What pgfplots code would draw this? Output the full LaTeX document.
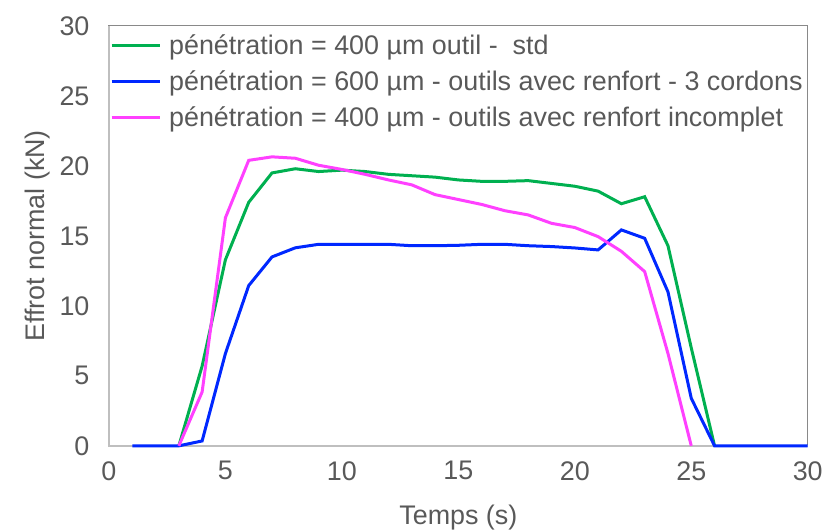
\documentclass[border=0pt]{standalone}
\usepackage{pgfplots}
\pgfplotsset{compat=1.18}
\usepackage{fontspec}
\setmainfont{Liberation Sans}
\definecolor{txt}{RGB}{89,89,89}
\definecolor{axl}{RGB}{191,191,191}
\definecolor{box}{RGB}{137,137,137}
\definecolor{cgreen}{RGB}{0,176,80}
\definecolor{cblue}{RGB}{0,40,255}
\definecolor{cmag}{RGB}{255,64,255}
\begin{document}
\begin{tikzpicture}
\begin{axis}[
  scale only axis, width=699bp, height=420bp,
  xmin=0, xmax=30, ymin=0, ymax=30,
  xtick={0,5,...,30}, ytick={0,5,...,30},
  major tick length=0pt,
  axis line style={draw=box, line width=1bp},
  tick label style={font=\fontsize{27}{31}\selectfont, text=txt},
  /pgf/number format/assume math mode=true,
  yticklabel style={xshift=-16bp},
  xticklabel style={yshift=-12bp},
  xlabel={Temps (s)}, ylabel={Effrot normal (kN)},
  label style={font=\fontsize{27}{31}\selectfont, text=txt},
  xlabel style={yshift=-21bp, inner sep=0pt},
  ylabel style={yshift=3bp},
  legend style={at={(rel axis cs:0,1)}, anchor=north west, draw=none, fill=none,
    yshift=-3bp,
    font=\fontsize{27}{31}\selectfont, text=txt, row sep=10.5bp, inner xsep=1bp, inner ysep=4bp},
  legend cell align=left,
  legend image code/.code={\draw[#1, line width=3bp] (0bp,0bp) -- (48bp,0bp); \path (54bp,0bp);},
  clip=false,
]
\draw[axl, line width=1.5bp] (rel axis cs:0,1) -- (rel axis cs:0,0) -- (rel axis cs:1,0);
\addplot[cgreen, line width=3bp] coordinates {
(3,0) (4,5.7) (5,13.3) (6,17.4) (7,19.5) (8,19.8) (9,19.6) (10,19.7) (11,19.6) (12,19.4) (13,19.3) (14,19.2) (15,19.0) (16,18.9) (17,18.9) (18,18.95) (19,18.75) (20,18.55) (21,18.2) (22,17.3) (23,17.8) (24,14.3) (25,7.0) (26,0)
};
\addlegendentry{pénétration = 400 µm outil - \ std}
\addplot[cblue, line width=3bp] coordinates {
(1,0) (2,0) (3,0) (4,0.35) (5,6.6) (6,11.45) (7,13.5) (8,14.15) (9,14.4) (10,14.4) (11,14.4) (12,14.4) (13,14.3) (14,14.3) (15,14.33) (16,14.4) (17,14.4) (18,14.3) (19,14.24) (20,14.14) (21,14.0) (22,15.43) (23,14.83) (24,11.0) (25,3.4) (26,0) (27,0) (28,0) (29,0) (30,0)
};
\addlegendentry{pénétration = 600 µm - outils avec renfort - 3 cordons}
\addplot[cmag, line width=3bp] coordinates {
(3,0) (4,3.85) (5,16.3) (6,20.4) (7,20.65) (8,20.55) (9,20.05) (10,19.75) (11,19.4) (12,19.0) (13,18.65) (14,17.95) (15,17.6) (16,17.25) (17,16.8) (18,16.5) (19,15.9) (20,15.6) (21,14.95) (22,13.9) (23,12.45) (24,6.6) (25,0)
};
\addlegendentry{pénétration = 400 µm - outils avec renfort incomplet}
\end{axis}
\path ([shift={(-109bp,-84bp)}]current axis.south west) rectangle ([shift={(18bp,26bp)}]current axis.north east);
\end{tikzpicture}
\end{document}
